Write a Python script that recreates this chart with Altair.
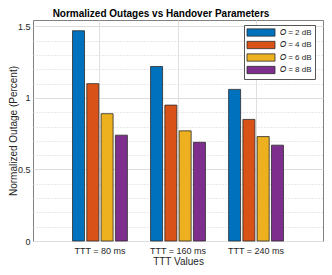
import altair as alt
import pandas as pd

# ---- data ----
ttt_labels = ["TTT = 80 ms", "TTT = 160 ms", "TTT = 240 ms"]
series_labels = ["𝑂 = 2 dB", "𝑂 = 4 dB", "𝑂 = 6 dB", "𝑂 = 8 dB"]
o2_values = [1.47, 1.22, 1.06]
o4_values = [1.10, 0.95, 0.85]
o6_values = [0.89, 0.77, 0.73]
o8_values = [0.74, 0.69, 0.67]
series_colors = ["#0072BD", "#D95319", "#EDB120", "#7E2F8E"]
y_tick_values = [0, 0.1, 0.2, 0.3, 0.4, 0.5, 0.6, 0.7, 0.8, 0.9, 1, 1.1, 1.2,
                 1.3, 1.4, 1.5]

rows = []
for s, vals in zip(series_labels, [o2_values, o4_values, o6_values, o8_values]):
    for t, v in zip(ttt_labels, vals):
        rows.append({"ttt": t, "series": s, "value": v})
df = pd.DataFrame(rows)

major_test = "datum.value % 0.5 === 0"
sym_path = "M-1.125,-0.9125L5.875,-0.9125L5.875,0.9125L-1.125,0.9125Z"

chart = alt.Chart(df).mark_bar(
    stroke="#2b2b2b", strokeWidth=0.8
).encode(
    x=alt.X("ttt:N", sort=ttt_labels,
            scale=alt.Scale(paddingInner=0, paddingOuter=0.358),
            axis=alt.Axis(title="TTT Values", labelAngle=0, grid=True,
                          gridColor="#e0e0e0", ticks=False, tickSize=0,
                          domain=False, labelPadding=12,
                          labelBaseline="alphabetic", labelFontSize=9,
                          labelColor="#262626",
                          titleFontSize=10, titleFontWeight="normal",
                          titleColor="#262626", titleY=23,
                          titleBaseline="alphabetic")),
    xOffset=alt.XOffset("series:N", sort=series_labels,
                        scale=alt.Scale(paddingInner=0.16, paddingOuter=0.81)),
    y=alt.Y("value:Q", scale=alt.Scale(domain=[0, 1.545], nice=False, zero=True),
            axis=alt.Axis(title="Normalized Outage (Percent)",
                          values=y_tick_values, grid=True,
                          gridColor={"condition": {"test": major_test, "value": "#dedede"},
                                     "value": "#d2d2d2"},
                          gridDash={"condition": {"test": major_test, "value": []},
                                    "value": [1, 2]},
                          labelExpr=f"{major_test} ? datum.value + '' : ''",
                          labelOverlap=False, labelFlush=False,
                          ticks=False, tickSize=0, domain=False, labelPadding=3,
                          labelFontSize=9, labelColor="#262626",
                          titleFontSize=10, titleFontWeight="normal",
                          titleColor="#262626", titleAngle=270,
                          titleX=-24.5, titleBaseline="top")),
    color=alt.Color("series:N", sort=series_labels,
                    scale=alt.Scale(domain=series_labels, range=series_colors),
                    legend=alt.Legend(title=None, orient="none", legendX=211,
                                      legendY=5, symbolType=sym_path,
                                      symbolSize=64, symbolStrokeColor="#2b2b2b",
                                      symbolStrokeWidth=0.8, symbolOpacity=1,
                                      labelOffset=24, labelFontSize=8,
                                      labelColor="#262626", rowPadding=1.5,
                                      padding=3, strokeColor="#555555",
                                      fillColor="white")),
).properties(
    width=290, height=221,
    title=alt.TitleParams("Normalized Outages vs Handover Parameters",
                          fontSize=10, fontWeight="bold", color="black",
                          anchor="middle", frame="group", dx=-17,
                          offset=-7, baseline="alphabetic"),
    autosize=alt.AutoSizeParams(type="none"),
    padding={"left": 25, "top": 12, "right": 1, "bottom": 26},
).configure(
    font="Liberation Sans",
).configure_view(
    stroke="#808080", strokeWidth=1,
)

chart.save("out.html", embed_options={"renderer": "svg", "actions": False})
